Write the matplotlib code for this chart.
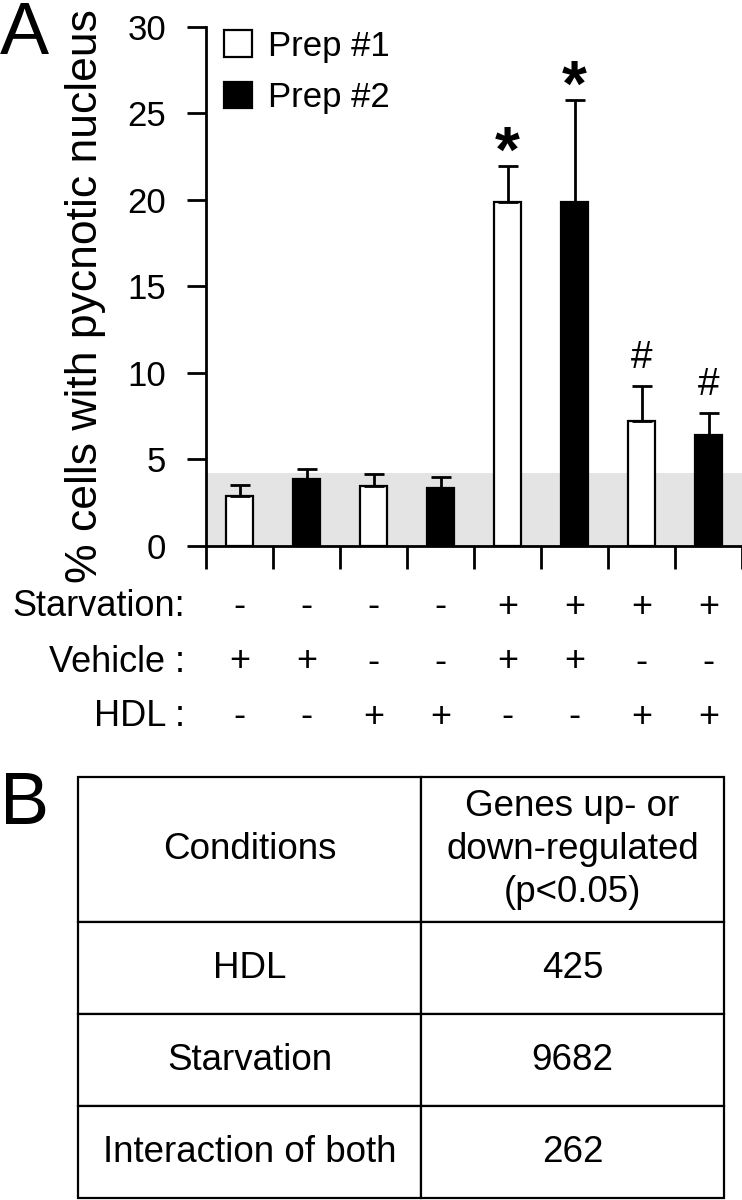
import numpy as np
import matplotlib
matplotlib.use("Agg")
import matplotlib.pyplot as plt
from matplotlib.patches import Patch
from matplotlib.transforms import blended_transform_factory

plt.rcParams['font.family'] = ['Liberation Sans', 'DejaVu Sans']

# ------------------------------------------------------------
# Data
# ------------------------------------------------------------
preps = ["Prep #1", "Prep #2"]
bar_prep = [0, 1, 0, 1, 0, 1, 0, 1]
pct_pycnotic = [2.87, 3.88, 3.49, 3.33, 19.85, 19.9, 7.23, 6.41]
pct_err = [0.66, 0.55, 0.65, 0.68, 2.1, 5.85, 2.0, 1.25]
signif = ["", "", "", "", "*", "*", "#", "#"]
baseline_band = 4.2

row_names = ["Starvation:", "Vehicle :", "HDL :"]
starvation = ["-", "-", "-", "-", "+", "+", "+", "+"]
vehicle = ["+", "+", "-", "-", "+", "+", "-", "-"]
hdl = ["-", "-", "+", "+", "-", "-", "+", "+"]

table_header = ["Conditions", "Genes up- or\ndown-regulated\n(p<0.05)"]
conditions = ["HDL", "Starvation", "Interaction of both"]
n_genes = [425, 9682, 262]

# ------------------------------------------------------------
# Figure
# ------------------------------------------------------------
W, H = 742, 1200
fig = plt.figure(figsize=(W / 100, H / 100), dpi=100)

def fx(px):
    return px / W

def fy(py):
    return 1 - py / H

ax = fig.add_axes([fx(206), fy(546), fx(742) - fx(206), fy(26.7) - fy(546)])

x = np.arange(len(pct_pycnotic))
fill = ["white" if p == 0 else "black" for p in bar_prep]

ax.axhspan(0, baseline_band, color="#e4e4e4", zorder=0, lw=0)
ax.bar(x, pct_pycnotic, width=0.41, color=fill, edgecolor="black",
       linewidth=1.6, zorder=2)
ax.errorbar(x, pct_pycnotic, yerr=[np.zeros(len(x)), pct_err], fmt="none",
            ecolor="black", elinewidth=2, capsize=7, capthick=2, zorder=3)

# significance marks above the error bars
for xi, m, e, s in zip(x, pct_pycnotic, pct_err, signif):
    if s == "*":
        ax.annotate(s, (xi, m + e), xytext=(0, -6), textcoords="offset pixels",
                    ha="center", va="baseline", fontsize=46, fontweight="bold")
    elif s == "#":
        ax.annotate(s, (xi, m + e), xytext=(0, 18), textcoords="offset pixels",
                    ha="center", va="baseline", fontsize=28)

ax.set_xlim(-0.5, len(x) - 0.5)
ax.set_ylim(0, 30)
ax.set_yticks(np.arange(0, 31, 5))
ax.set_xticks(np.arange(-0.5, len(x), 1.0))
ax.set_xticklabels([])
ax.tick_params(axis="y", direction="out", length=13.7, width=2, labelsize=25, pad=15)
ax.tick_params(axis="x", direction="out", length=16.5, width=2)
for side in ["top", "right"]:
    ax.spines[side].set_visible(False)
for side in ["left", "bottom"]:
    ax.spines[side].set_linewidth(2)

handles = [Patch(facecolor="white", edgecolor="black", linewidth=1.6),
           Patch(facecolor="black", edgecolor="black", linewidth=1.6)]
ax.legend(handles, preps, loc="upper left", bbox_to_anchor=(0.034, 0.994),
          frameon=False, fontsize=25, handlelength=0.8, handleheight=0.8,
          handletextpad=0.46, labelspacing=0.53, borderpad=0, borderaxespad=0)

fig.text(fx(86), fy(296), "% cells with pycnotic nucleus", rotation=90,
         ha="center", va="center", fontsize=32)

# treatment rows under the bars
bt = blended_transform_factory(ax.transData, fig.transFigure)
for row_y, name, signs in zip([607, 662, 717], row_names, [starvation, vehicle, hdl]):
    fig.text(fx(185), fy(row_y), name, ha="right", va="center", fontsize=26)
    for xi, s in zip(x, signs):
        ax.text(xi, fy(row_y), s, transform=bt, ha="center", va="center",
                fontsize=26, clip_on=False)

# panel letters
fig.text(fx(0), fy(0), "A", ha="left", va="top", fontsize=53)
fig.text(fx(0), fy(770), "B", ha="left", va="top", fontsize=53)

# ------------------------------------------------------------
# Table B
# ------------------------------------------------------------
tax = fig.add_axes([fx(78), fy(1198), fx(724) - fx(78), fy(777) - fy(1198)])
tax.axis("off")
cells = [table_header] + [[c, str(n)] for c, n in zip(conditions, n_genes)]
tbl = tax.table(cellText=cells, cellLoc="center", bbox=[0, 0, 1, 1],
                colWidths=[343, 303])
tbl.auto_set_font_size(False)
tbl.set_fontsize(26.5)
row_h = [145, 92, 92, 92]
for (r, c), cell in tbl.get_celld().items():
    cell.set_height(row_h[r])
    cell.set_linewidth(1.6)
    cell.get_text().set_linespacing(1.3)

fig.savefig("out.png", dpi=100)
